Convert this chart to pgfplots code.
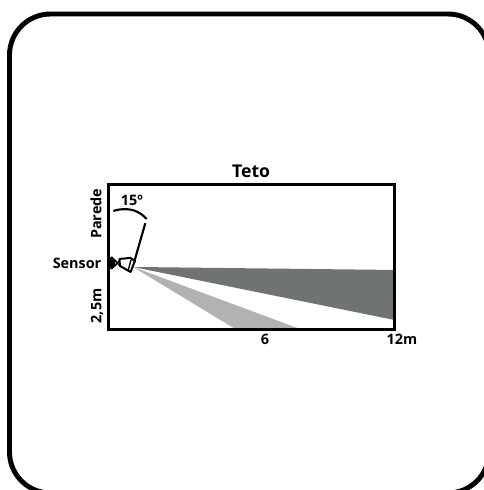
\documentclass[border=0pt]{standalone}
\usepackage{fontspec}
\setmainfont{Open Sans}[BoldFont={Open Sans Bold}]
\usepackage{pgfplots}
\pgfplotsset{compat=1.18}
\definecolor{ink}{HTML}{111111}
\definecolor{darkbeam}{HTML}{6F7372}
\definecolor{lightbeam}{HTML}{B0B3B2}
\newcommand{\lbl}{\fontsize{10.8}{12}\selectfont\bfseries}
\begin{document}
\begin{tikzpicture}
\useasboundingbox (0,0) rectangle (363pt,367.5pt);
% outer frame, pixel coordinates
\begin{axis}[
  at={(0pt,0pt)}, anchor=south west,
  scale only axis, width=363pt, height=367.5pt,
  xmin=0, xmax=484, ymin=0, ymax=490,
  hide axis, clip=false,
]
\addplot[black, line width=3.7pt, rounded corners=30.75pt] coordinates {
  (250,476) (489,476) (489,-3) (9.5,-3) (9.5,476) (250,476)};
\end{axis}
% room section
\begin{axis}[
  at={(81.2pt,120.4pt)}, anchor=south west,
  scale only axis, width=214.6pt, height=108.4pt,
  xmin=0, xmax=12, ymin=0, ymax=5.6,
  ticks=none, axis line style={black, line width=2.2pt},
  axis on top, clip=false,
  every node/.style={text=ink, inner sep=0pt},
]
\addplot[fill=darkbeam, draw=none] coordinates {(1.036,2.422) (12,2.306) (12,0.368)} -- cycle;
\addplot[fill=lightbeam, draw=none] coordinates {(1.036,2.422) (8.1,0) (5.36,0)} -- cycle;
% wall mount
\addplot[fill=black, draw=black, line width=0.6pt] coordinates {
  (-0.013,2.733) (0.155,2.81) (0.281,2.694) (0.281,2.461) (0.155,2.345) (-0.013,2.422)} -- cycle;
\addplot[black, line width=1pt] coordinates {(0.281,2.694) (0.491,2.461)};
\addplot[black, line width=1pt] coordinates {(0.281,2.461) (0.491,2.694)};
% sensor body
\addplot[black, line width=1.5pt, line join=round, fill=white] coordinates {
  (0.47,2.733) (0.932,2.771) (1.12,2.655) (0.932,2.229) (0.491,2.461)} -- cycle;
\addplot[black, line width=1pt] coordinates {(0.953,2.694) (0.827,2.267)};
% angle
\addplot[black, line width=1.6pt] coordinates {(1.091,2.628) (1.553,4.116)};
\addplot[black, line width=1.6pt, smooth] coordinates {
  (0.21,4.593) (0.491,4.651) (0.797,4.659) (1.078,4.612) (1.372,4.477) (1.611,4.283)};
\node at (axis cs:5.99,6.14) {\fontsize{13.2}{15}\selectfont\bfseries Teto};
\node at (axis cs:-1.31,2.58) {\lbl Sensor};
\node[rotate=90] at (axis cs:-0.52,4.48) {\lbl Parede};
\node[rotate=90] at (axis cs:-0.47,0.91) {\lbl 2,5m};
\node at (axis cs:0.99,5.02) {\lbl 15º};
\node at (axis cs:6.57,-0.37) {\lbl 6};
\node at (axis cs:12.32,-0.37) {\lbl 12m};
\end{axis}
\end{tikzpicture}
\end{document}
